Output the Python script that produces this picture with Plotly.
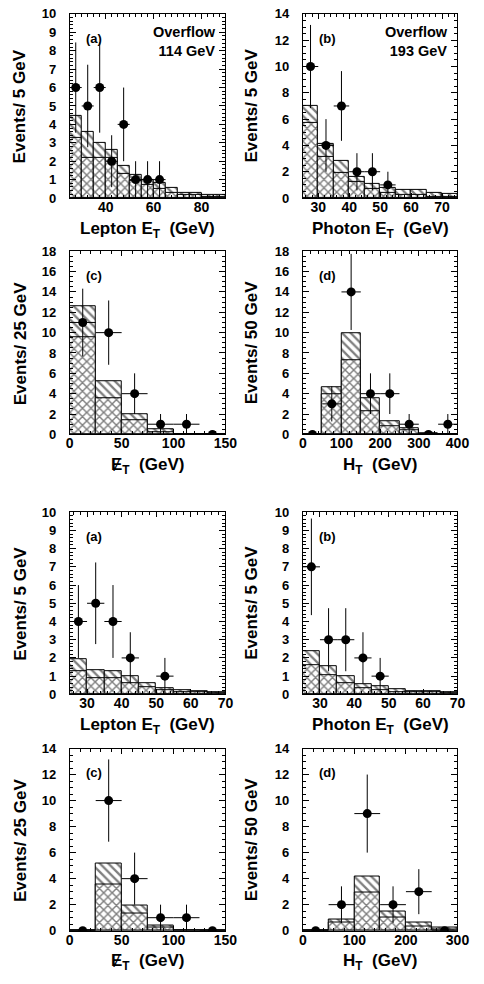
import plotly.graph_objects as go

# ---------------- data ----------------
# Top block, panel (a): Lepton E_T, 5 GeV bins 25-90
a1_centers = [27.5, 32.5, 37.5, 42.5, 47.5, 52.5, 57.5, 62.5, 67.5, 72.5, 77.5, 82.5, 87.5]
a1_total = [4.45, 3.6, 3.0, 2.6, 1.75, 1.25, 1.0, 0.85, 0.55, 0.3, 0.3, 0.15, 0.15]
a1_cross = [3.25, 2.2, 2.2, 2.2, 1.3, 0.95, 0.7, 0.5, 0.3, 0.15, 0.15, 0.08, 0.08]
a1_px = [27.5, 32.5, 37.5, 42.5, 47.5, 52.5, 57.5, 62.5]
a1_n = [6, 5, 6, 2, 4, 1, 1, 1]
a1_err = [2.45, 2.24, 2.45, 1.41, 2.0, 1.0, 1.0, 1.0]

# Top block, panel (b): Photon E_T, 5 GeV bins 25-75
b1_centers = [27.5, 32.5, 37.5, 42.5, 47.5, 52.5, 57.5, 62.5, 67.5, 72.5]
b1_total = [7.0, 4.1, 2.8, 1.6, 1.1, 0.8, 0.6, 0.6, 0.4, 0.3]
b1_cross = [5.7, 3.1, 1.9, 1.2, 0.7, 0.4, 0.25, 0.25, 0.12, 0.1]
b1_px = [27.5, 32.5, 37.5, 42.5, 47.5, 52.5]
b1_n = [10, 4, 7, 2, 2, 1]
b1_err = [3.16, 2.0, 2.65, 1.41, 1.41, 1.0]

# Top block, panel (c): missing E_T, 25 GeV bins 0-150
c1_centers = [12.5, 37.5, 62.5, 87.5, 112.5, 137.5]
c1_total = [12.6, 5.2, 2.0, 0.48, 0.05, 0.02]
c1_cross = [9.5, 3.55, 1.35, 0.25, 0.03, 0.01]
c1_px = [12.5, 37.5, 62.5, 87.5, 112.5, 137.5]
c1_n = [11, 10, 4, 1, 1, 0]
c1_err = [3.32, 3.16, 2.0, 1.0, 1.0, 0.0]

# Top block, panel (d): H_T, 50 GeV bins 0-400
d1_centers = [25, 75, 125, 175, 225, 275, 325, 375]
d1_total = [0.0, 4.6, 9.9, 3.6, 1.3, 0.65, 0.1, 0.05]
d1_cross = [0.0, 3.9, 7.25, 2.3, 0.85, 0.4, 0.05, 0.02]
d1_px = [25, 75, 125, 175, 225, 275, 325, 375]
d1_n = [0, 3, 14, 4, 4, 1, 0, 1]
d1_err = [0.0, 1.73, 3.74, 2.0, 2.0, 1.0, 0.0, 1.0]

# Bottom block, panel (a): Lepton E_T, 5 GeV bins 25-70
a2_centers = [27.5, 32.5, 37.5, 42.5, 47.5, 52.5, 57.5, 62.5, 67.5]
a2_total = [1.95, 1.35, 1.26, 1.0, 0.63, 0.36, 0.23, 0.18, 0.14]
a2_cross = [1.3, 0.87, 0.87, 0.63, 0.41, 0.23, 0.14, 0.1, 0.08]
a2_px = [27.5, 32.5, 37.5, 42.5, 52.5]
a2_n = [4, 5, 4, 2, 1]
a2_err = [2.0, 2.24, 2.0, 1.41, 1.0]

# Bottom block, panel (b): Photon E_T, 5 GeV bins 25-70
b2_centers = [27.5, 32.5, 37.5, 42.5, 47.5, 52.5, 57.5, 62.5, 67.5]
b2_total = [2.35, 1.53, 1.0, 0.54, 0.45, 0.27, 0.18, 0.18, 0.1]
b2_cross = [1.62, 1.08, 0.63, 0.32, 0.23, 0.14, 0.1, 0.1, 0.05]
b2_px = [27.5, 32.5, 37.5, 42.5, 47.5]
b2_n = [7, 3, 3, 2, 1]
b2_err = [2.65, 1.73, 1.73, 1.41, 1.0]

# Bottom block, panel (c): missing E_T, 25 GeV bins 0-150
c2_centers = [12.5, 37.5, 62.5, 87.5, 112.5, 137.5]
c2_total = [0.0, 5.2, 1.93, 0.38, 0.03, 0.0]
c2_cross = [0.0, 3.57, 1.3, 0.25, 0.02, 0.0]
c2_px = [12.5, 37.5, 62.5, 87.5, 112.5, 137.5]
c2_n = [0, 10, 4, 1, 1, 0]
c2_err = [0.0, 3.16, 2.0, 1.0, 1.0, 0.0]

# Bottom block, panel (d): H_T, 50 GeV bins 0-300
d2_centers = [25, 75, 125, 175, 225, 275]
d2_total = [0.0, 0.88, 4.15, 1.5, 0.6, 0.25]
d2_cross = [0.0, 0.63, 2.94, 1.0, 0.33, 0.12]
d2_px = [25, 75, 125, 175, 225, 275]
d2_n = [0, 2, 9, 2, 3, 0]
d2_err = [0.0, 1.41, 3.0, 1.41, 1.73, 0.0]

lep_title = "<b>Lepton E<sub>T</sub>\u00a0\u00a0(GeV)</b>"
pho_title = "<b>Photon E<sub>T</sub>\u00a0\u00a0(GeV)</b>"
met_title = "<b>\u0246<sub>T</sub>\u00a0\u00a0(GeV)</b>"
ht_title = "<b>H<sub>T</sub>\u00a0\u00a0(GeV)</b>"

# ---------------- layout geometry (pixels) ----------------
W, H = 484, 984
COLS = [(68, 229), (309, 469)]
ROWS = [(7, 194), (248, 434), (513, 698), (753, 938)]

panels = [
    dict(c=a1_centers, t=a1_total, k=a1_cross, px=a1_px, n=a1_n, e=a1_err, bw=5,
         xr=[25, 90], xd=20, xm=2.5, yr=[0, 10], yd=1, ym=0.2, lab="(a)",
         xt=lep_title, yt="<b>Events/ 5 GeV</b>", ov="Overflow<br>114 GeV", col=0, row=0),
    dict(c=b1_centers, t=b1_total, k=b1_cross, px=b1_px, n=b1_n, e=b1_err, bw=5,
         xr=[25, 75], xd=10, xm=2, yr=[0, 14], yd=2, ym=0.5, lab="(b)",
         xt=pho_title, yt="<b>Events/ 5 GeV</b>", ov="Overflow<br>193 GeV", col=1, row=0),
    dict(c=c1_centers, t=c1_total, k=c1_cross, px=c1_px, n=c1_n, e=c1_err, bw=25,
         xr=[0, 150], xd=50, xm=10, yr=[0, 18], yd=2, ym=0.5, lab="(c)",
         xt=met_title, yt="<b>Events/ 25 GeV</b>", ov=None, col=0, row=1),
    dict(c=d1_centers, t=d1_total, k=d1_cross, px=d1_px, n=d1_n, e=d1_err, bw=50,
         xr=[0, 400], xd=100, xm=20, yr=[0, 18], yd=2, ym=0.5, lab="(d)",
         xt=ht_title, yt="<b>Events/ 50 GeV</b>", ov=None, col=1, row=1),
    dict(c=a2_centers, t=a2_total, k=a2_cross, px=a2_px, n=a2_n, e=a2_err, bw=5,
         xr=[25, 70], xd=10, xm=2, yr=[0, 10], yd=1, ym=0.2, lab="(a)",
         xt=lep_title, yt="<b>Events/ 5 GeV</b>", ov=None, col=0, row=2),
    dict(c=b2_centers, t=b2_total, k=b2_cross, px=b2_px, n=b2_n, e=b2_err, bw=5,
         xr=[25, 70], xd=10, xm=2, yr=[0, 10], yd=1, ym=0.2, lab="(b)",
         xt=pho_title, yt="<b>Events/ 5 GeV</b>", ov=None, col=1, row=2),
    dict(c=c2_centers, t=c2_total, k=c2_cross, px=c2_px, n=c2_n, e=c2_err, bw=25,
         xr=[0, 150], xd=50, xm=10, yr=[0, 14], yd=2, ym=0.5, lab="(c)",
         xt=met_title, yt="<b>Events/ 25 GeV</b>", ov=None, col=0, row=3),
    dict(c=d2_centers, t=d2_total, k=d2_cross, px=d2_px, n=d2_n, e=d2_err, bw=50,
         xr=[0, 300], xd=100, xm=20, yr=[0, 14], yd=2, ym=0.5, lab="(d)",
         xt=ht_title, yt="<b>Events/ 50 GeV</b>", ov=None, col=1, row=3),
]

FONT = "Liberation Sans, Arial, Helvetica, sans-serif"
fig = go.Figure()
annotations = []
layout_axes = {}

for i, p in enumerate(panels, start=1):
    xa = "x" if i == 1 else f"x{i}"
    ya = "y" if i == 1 else f"y{i}"
    xname = "xaxis" if i == 1 else f"xaxis{i}"
    yname = "yaxis" if i == 1 else f"yaxis{i}"
    x0, x1 = COLS[p["col"]]
    y0, y1 = ROWS[p["row"]]

    for vals, shape, sol in ((p["t"], "\\", 0.38), (p["k"], "x", 0.42)):
        fig.add_trace(go.Bar(
            x=p["c"], y=vals, width=p["bw"], xaxis=xa, yaxis=ya,
            marker=dict(color="white",
                        line=dict(color="black", width=1),
                        pattern=dict(shape=shape, fgcolor="black", bgcolor="white",
                                     size=6, solidity=sol)),
            showlegend=False, hoverinfo="skip"))

    fig.add_trace(go.Scatter(
        x=p["px"], y=p["n"], xaxis=xa, yaxis=ya, mode="markers",
        marker=dict(color="black", size=9),
        error_y=dict(type="data", array=p["e"], color="black", thickness=1, width=0),
        error_x=dict(type="constant", value=p["bw"] / 2, color="black", thickness=1, width=0),
        showlegend=False, hoverinfo="skip"))

    layout_axes[xname] = dict(
        domain=[x0 / W, x1 / W], anchor=ya, range=p["xr"], dtick=p["xd"], tick0=0,
        ticks="inside", ticklen=5, tickwidth=1, tickcolor="black",
        minor=dict(ticks="inside", ticklen=3, dtick=p["xm"], tickcolor="black", tickwidth=1),
        showline=True, linecolor="black", linewidth=1, mirror="allticks",
        showgrid=False, zeroline=False,
        tickfont=dict(family=FONT, size=14, color="black", weight="bold"),
        ticklabelstandoff=-4, fixedrange=True)
    layout_axes[yname] = dict(
        domain=[1 - y1 / H, 1 - y0 / H], anchor=xa, range=p["yr"], dtick=p["yd"], tick0=0,
        ticks="inside", ticklen=6, tickwidth=1, tickcolor="black",
        minor=dict(ticks="inside", ticklen=3, dtick=p["ym"], tickcolor="black", tickwidth=1),
        showline=True, linecolor="black", linewidth=1, mirror="allticks",
        showgrid=False, zeroline=False,
        tickfont=dict(family=FONT, size=13, color="black", weight="bold"),
        ticklabelstandoff=10, fixedrange=True)

    # panel label
    annotations.append(dict(
        xref=f"{xa} domain", yref=f"{ya} domain", x=0.093, y=0.866,
        xanchor="left", yanchor="middle", showarrow=False,
        text=f"<b>{p['lab']}</b>", font=dict(family=FONT, size=13, color="black")))
    if p["ov"]:
        annotations.append(dict(
            xref=f"{xa} domain", yref=f"{ya} domain", x=0.95, y=0.955,
            xanchor="right", yanchor="top", align="right", showarrow=False,
            text=f"<b>{p['ov']}</b>", font=dict(family=FONT, size=14.5, color="black")))
    # x title
    annotations.append(dict(
        xref="paper", yref="paper", x=(x0 + x1) / 2 / W, y=1 - (y1 + 32) / H,
        xanchor="center", yanchor="middle", showarrow=False,
        text=p["xt"], font=dict(family=FONT, size=17, color="black")))
    # y title
    ytx = 17 if p["col"] == 0 else 256
    annotations.append(dict(
        xref="paper", yref="paper", x=ytx / W, y=1 - (y0 + y1) / 2 / H,
        xanchor="center", yanchor="middle", textangle=-90, showarrow=False,
        text=p["yt"], font=dict(family=FONT, size=17, color="black")))

fig.update_layout(
    width=W, height=H, margin=dict(l=0, r=0, t=0, b=0),
    paper_bgcolor="white", plot_bgcolor="white",
    barmode="overlay", bargap=0, showlegend=False,
    annotations=annotations, **layout_axes)

fig.write_html("out.html")
